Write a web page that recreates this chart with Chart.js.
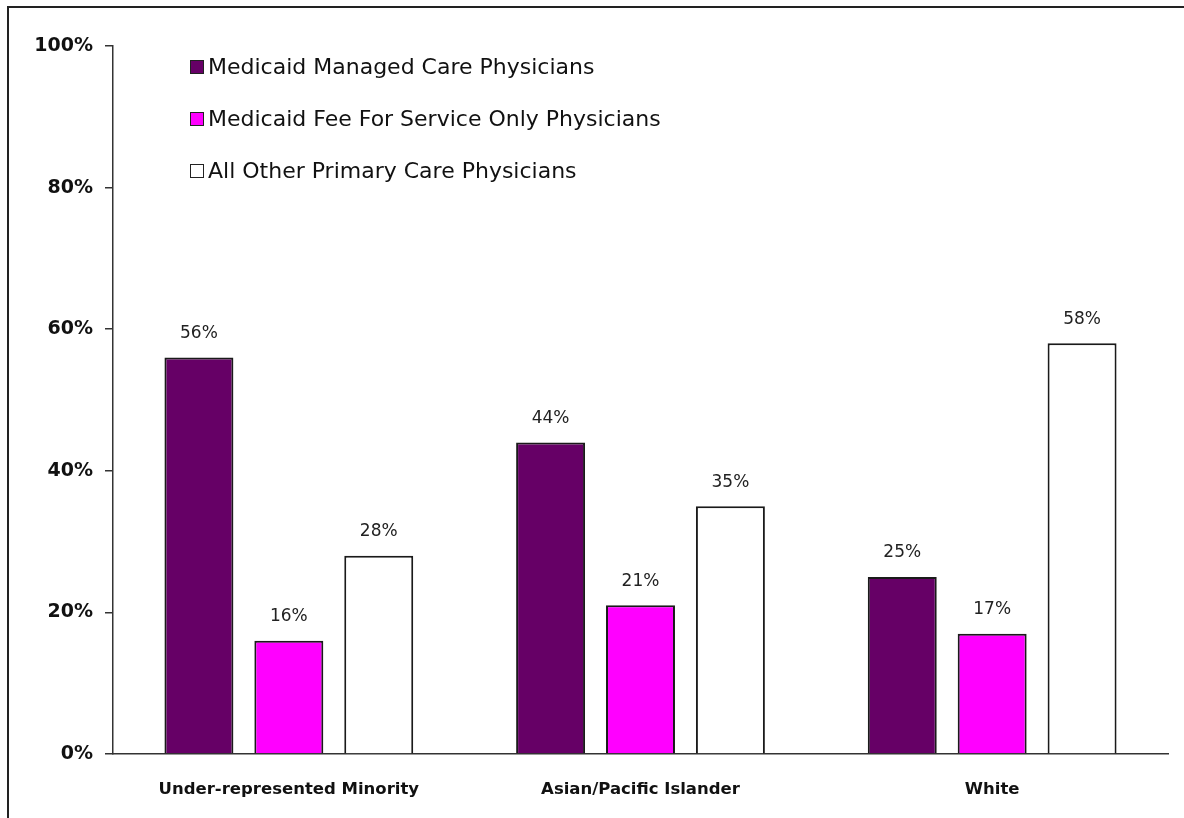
<!DOCTYPE html>
<html lang="en">
<head>
    <meta charset="UTF-8">
    <title>Physicians by race/ethnicity</title>
    <script src="https://cdn.jsdelivr.net/npm/chart.js@4.4.1/dist/chart.umd.min.js"></script>
    <style>
        body {
            margin: 0;
            background-color: #fff;
        }
        .chart-box {
            width: 1184px;
            height: 818px;
        }
    </style>
</head>
<body>
    <div class="chart-box">
        <canvas id="myChart"></canvas>
    </div>

    <script>
        const categories = ['Under-represented Minority', 'Asian/Pacific Islander', 'White'];
        const seriesNames = [
            'Medicaid Managed Care Physicians',
            'Medicaid Fee For Service Only Physicians',
            'All Other Primary Care Physicians'
        ];
        const managedCare = [56, 44, 25];
        const feeForService = [16, 21, 17];
        const allOther = [28, 35, 58];
        const yTicks = [0, 20, 40, 60, 80, 100];

        const fontFamily = '"DejaVu Sans", Arial, sans-serif';

        // frame line along the top and left edge of the picture
        const framePlugin = {
            id: 'frame',
            afterDraw(chart) {
                const ctx = chart.ctx;
                ctx.save();
                ctx.strokeStyle = '#222';
                ctx.lineWidth = 2;
                ctx.beginPath();
                ctx.moveTo(8, chart.height);
                ctx.lineTo(8, 7);
                ctx.lineTo(chart.width, 7);
                ctx.stroke();
                ctx.restore();
            }
        };

        // value labels above each bar
        const valueLabels = {
            id: 'valueLabels',
            afterDatasetsDraw(chart) {
                const ctx = chart.ctx;
                ctx.save();
                ctx.font = '17px ' + fontFamily;
                ctx.fillStyle = '#222';
                ctx.textAlign = 'center';
                ctx.textBaseline = 'middle';
                chart.data.datasets.forEach((ds, i) => {
                    chart.getDatasetMeta(i).data.forEach((bar, j) => {
                        ctx.fillText(ds.data[j] + '%', bar.x, bar.y - 24);
                    });
                });
                ctx.restore();
            }
        };

        // legend drawn inside the plot area, stacked
        const innerLegend = {
            id: 'innerLegend',
            afterDraw(chart) {
                const ctx = chart.ctx;
                ctx.save();
                ctx.font = '22px ' + fontFamily;
                ctx.textBaseline = 'middle';
                chart.data.datasets.forEach((ds, i) => {
                    const y = 67 + i * 52;
                    ctx.fillStyle = ds.backgroundColor;
                    ctx.fillRect(190, y - 7, 14, 14);
                    ctx.strokeStyle = '#222';
                    ctx.lineWidth = 1;
                    ctx.strokeRect(190.5, y - 6.5, 13, 13);
                    ctx.fillStyle = '#111';
                    ctx.fillText(ds.label, 208, y + 1);
                });
                ctx.restore();
            }
        };

        const ctx = document.getElementById('myChart').getContext('2d');
        new Chart(ctx, {
            type: 'bar',
            data: {
                labels: categories,
                datasets: [
                    { label: seriesNames[0], data: managedCare, backgroundColor: '#660066' },
                    { label: seriesNames[1], data: feeForService, backgroundColor: '#ff00ff' },
                    { label: seriesNames[2], data: allOther, backgroundColor: '#ffffff' }
                ].map(d => Object.assign(d, {
                    borderColor: '#1a1a1a',
                    borderWidth: 2,
                    categoryPercentage: 0.767,
                    barPercentage: 0.767
                }))
            },
            options: {
                responsive: true,
                maintainAspectRatio: false,
                animation: false,
                layout: {
                    padding: { left: 0, top: 46, right: 16, bottom: 0 }
                },
                plugins: {
                    legend: { display: false },
                    tooltip: { enabled: false }
                },
                scales: {
                    x: {
                        grid: { display: false },
                        border: { display: true, color: '#333', width: 1.5 },
                        ticks: {
                            color: '#111',
                            padding: 18,
                            font: { family: fontFamily, size: 16.5, weight: 'bold' }
                        },
                        afterFit(scale) { scale.height = 64; }
                    },
                    y: {
                        min: 0,
                        max: 100,
                        afterBuildTicks(scale) {
                            scale.ticks = yTicks.map(v => ({ value: v }));
                        },
                        grid: {
                            drawOnChartArea: false,
                            drawTicks: true,
                            tickLength: 8,
                            tickColor: '#333',
                            lineWidth: 1.5
                        },
                        border: { display: true, color: '#333', width: 1.5 },
                        ticks: {
                            color: '#111',
                            padding: 12,
                            font: { family: fontFamily, size: 19, weight: 'bold' },
                            callback: v => v + '%'
                        },
                        afterFit(scale) { scale.width = 113; }
                    }
                }
            },
            plugins: [framePlugin, valueLabels, innerLegend]
        });
    </script>
</body>
</html>
